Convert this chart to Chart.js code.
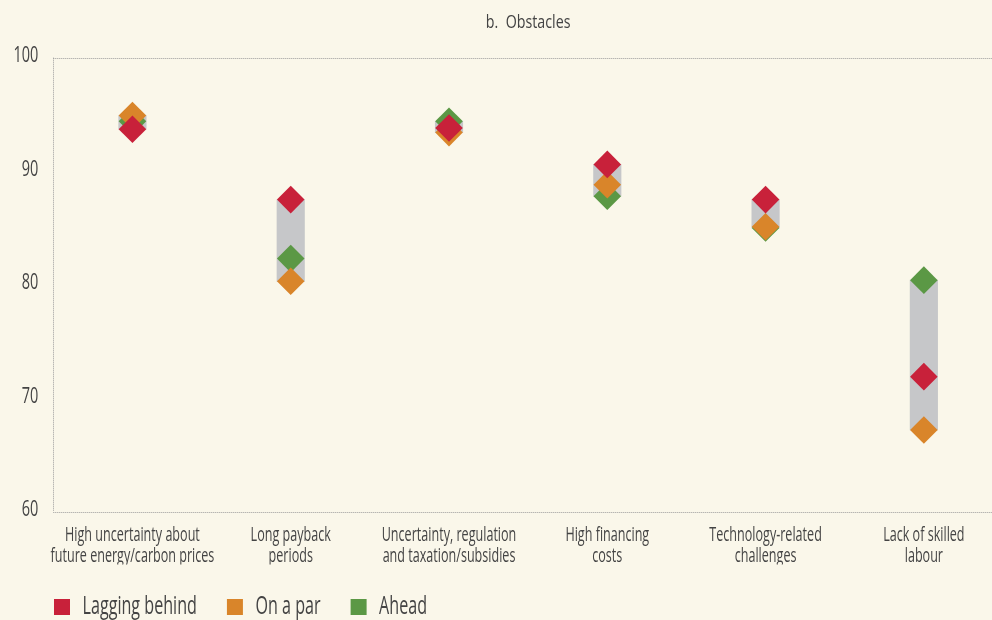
<!DOCTYPE html>
<html>
<head>
<meta charset="utf-8">
<script src="https://cdn.jsdelivr.net/npm/chart.js@4/dist/chart.umd.min.js"></script>
<style>
  html, body { margin: 0; padding: 0; background: #FAF7EA; overflow: hidden; }
  #wrap { width: 1003px; height: 620px; }
</style>
</head>
<body>
<div id="wrap"><canvas id="c" width="1003" height="620"></canvas></div>
<script>
const categories = [
  ["High uncertainty about", "future energy/carbon prices"],
  ["Long payback", "periods"],
  ["Uncertainty, regulation", "and taxation/subsidies"],
  ["High financing", "costs"],
  ["Technology-related", "challenges"],
  ["Lack of skilled", "labour"]
];
const laggingBehind = [93.7, 87.5, 93.8, 90.6, 87.5, 71.9];
const onAPar        = [94.9, 80.3, 93.4, 88.8, 85.1, 67.2];
const ahead         = [94.4, 82.3, 94.4, 87.8, 85.0, 80.4];
const yTicks = [60, 70, 80, 90, 100];
const chartTitle = "b.  Obstacles";

const FONT = "'Open Sans', 'Noto Sans', sans-serif";
const TEXT = "#444444";
const DOT = "#9b9b9b";
const SX = 0.645;      // horizontal condensing of all chart text
const SX_TITLE = 0.75;

const canvas = document.getElementById('c');
const ctx2d = canvas.getContext('2d');
const origFill = ctx2d.fillText.bind(ctx2d);
const origMeasure = ctx2d.measureText.bind(ctx2d);
let curSX = SX;
ctx2d.fillText = function (t, x, y, mw) {
  this.save();
  this.translate(x, y);
  this.scale(curSX, 1);
  if (mw !== undefined && mw !== null) origFill(t, 0, 0, mw / curSX); else origFill(t, 0, 0);
  this.restore();
};
ctx2d.measureText = function (t) {
  const m = origMeasure(t);
  return {
    width: m.width * curSX,
    actualBoundingBoxAscent: m.actualBoundingBoxAscent,
    actualBoundingBoxDescent: m.actualBoundingBoxDescent,
    actualBoundingBoxLeft: m.actualBoundingBoxLeft * curSX,
    actualBoundingBoxRight: m.actualBoundingBoxRight * curSX,
    fontBoundingBoxAscent: m.fontBoundingBoxAscent,
    fontBoundingBoxDescent: m.fontBoundingBoxDescent
  };
};

const ranges = categories.map((_, i) => {
  const v = [laggingBehind[i], onAPar[i], ahead[i]];
  return [Math.min(...v), Math.max(...v)];
});

const framePlugin = {
  id: 'frame',
  afterLayout(chart) {
    if (chart.legend) chart.legend.left = 24;
  },
  beforeDatasetsDraw(chart) {
    const {ctx, chartArea: a} = chart;
    ctx.save();
    ctx.strokeStyle = DOT;
    ctx.lineWidth = 1;
    ctx.setLineDash([1, 1]);
    ctx.beginPath();
    ctx.moveTo(a.left, Math.round(a.top) + 0.5); ctx.lineTo(a.right, Math.round(a.top) + 0.5);
    ctx.moveTo(Math.round(a.left) + 0.5, a.top); ctx.lineTo(Math.round(a.left) + 0.5, a.bottom);
    ctx.moveTo(a.left, Math.round(a.bottom) + 0.5); ctx.lineTo(a.right, Math.round(a.bottom) + 0.5);
    ctx.stroke();
    ctx.restore();
  },
  afterDraw(chart) {
    const {ctx, chartArea: a} = chart;
    ctx.save();
    ctx.fillStyle = TEXT;
    ctx.font = "19px " + FONT;
    ctx.textAlign = "center";
    ctx.textBaseline = "alphabetic";
    curSX = SX_TITLE;
    ctx.fillText(chartTitle, (a.left + a.right) / 2, 28);
    curSX = SX;
    ctx.restore();
  }
};

const pt = (label, data, color) => ({
  type: 'line',
  label,
  data,
  showLine: false,
  pointStyle: 'rectRot',
  pointRadius: 13.8,
  pointHoverRadius: 13.8,
  pointBorderWidth: 0,
  borderWidth: 0,
  backgroundColor: color,
  borderColor: color,
  pointBackgroundColor: color,
  order: 1
});

new Chart(canvas, {
  data: {
    labels: categories,
    datasets: [
      pt('Lagging behind', laggingBehind, '#C8213A'),
      pt('On a par', onAPar, '#D9852A'),
      pt('Ahead', ahead, '#5B9845'),
      {
        type: 'bar',
        label: 'range',
        data: ranges,
        backgroundColor: '#C6C7C9',
        borderWidth: 0,
        barThickness: 27.5,
        order: 5
      }
    ]
  },
  options: {
    responsive: false,
    animation: false,
    events: [],
    layout: { autoPadding: false, padding: { top: 57.7, left: 0, right: 0, bottom: -9.5 } },
    plugins: {
      title: { display: false },
      tooltip: { enabled: false },
      legend: {
        position: 'bottom',
        align: 'start',
        labels: {
          filter: (item) => item.datasetIndex < 3,
          boxWidth: 16,
          boxHeight: 16,
          padding: 30,
          color: TEXT,
          font: { family: FONT, size: 25 }
        }
      }
    },
    scales: {
      x: {
        type: 'category',
        offset: true,
        grid: { display: false, drawTicks: false },
        border: { display: false },
        ticks: {
          color: TEXT,
          padding: 13,
          maxRotation: 0,
          autoSkip: false,
          font: { family: FONT, size: 19.5, lineHeight: 1.08 }
        },
        afterFit: (s) => { s.height = 52.8; }
      },
      y: {
        min: 60,
        max: 100,
        afterBuildTicks: (s) => { s.ticks = yTicks.map(v => ({ value: v })); },
        grid: { display: false, drawTicks: false },
        border: { display: false },
        ticks: {
          color: TEXT,
          padding: 15,
          labelOffset: -2,
          font: { family: FONT, size: 22.5 }
        },
        afterFit: (s) => { s.width = 53.3; }
      }
    }
  },
  plugins: [framePlugin]
});
</script>
</body>
</html>
